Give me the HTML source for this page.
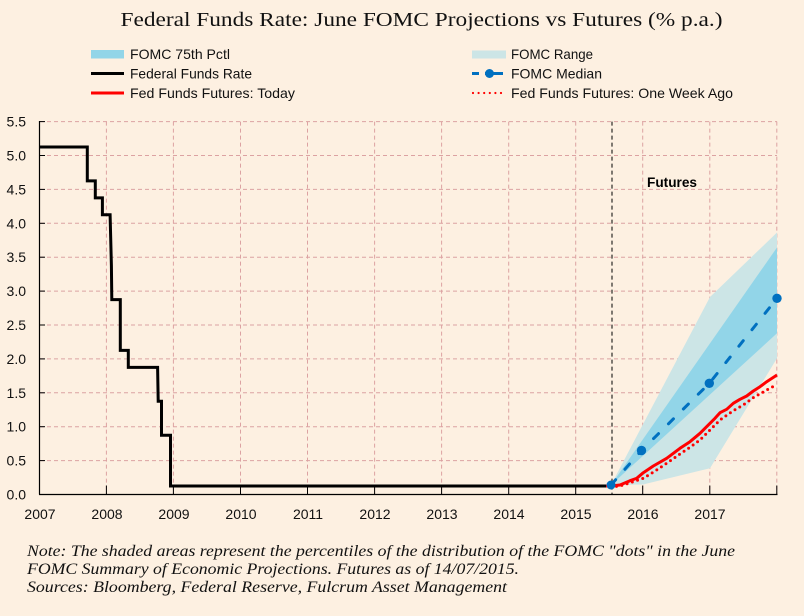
<!DOCTYPE html>
<html>
<head>
<meta charset="utf-8">
<style>
  html, body { margin: 0; padding: 0; background: #fdf0e1; }
  svg { display: block; }
  .ax { font-family: "Liberation Sans", Arial, sans-serif; font-size: 14px; fill: #111; }
  .lg { font-family: "Liberation Sans", Arial, sans-serif; font-size: 14px; fill: #111; }
  .ti { font-family: "Liberation Serif", "Times New Roman", serif; font-size: 20px; fill: #111; }
  .nt { font-family: "Liberation Serif", "Times New Roman", serif; font-size: 16px; font-style: italic; fill: #111; }
</style>
</head>
<body>
<svg width="804" height="616" viewBox="0 0 804 616" xmlns="http://www.w3.org/2000/svg">
  <rect x="0" y="0" width="804" height="616" fill="#fdf0e1"/>

  <!-- Title -->
  <text class="ti" x="120.5" y="26" textLength="602" lengthAdjust="spacingAndGlyphs">Federal Funds Rate: June FOMC Projections vs Futures (% p.a.)</text>

  <!-- Legend left -->
  <rect x="91" y="50" width="33" height="8.5" fill="#92d5e8"/>
  <text class="lg" x="130" y="59" textLength="100" lengthAdjust="spacingAndGlyphs">FOMC 75th Pctl</text>
  <line x1="91" y1="73.5" x2="124" y2="73.5" stroke="#000" stroke-width="3"/>
  <text class="lg" x="130" y="78.5" textLength="122" lengthAdjust="spacingAndGlyphs">Federal Funds Rate</text>
  <line x1="91" y1="93" x2="124" y2="93" stroke="#ff0000" stroke-width="3"/>
  <text class="lg" x="130" y="98" textLength="165" lengthAdjust="spacingAndGlyphs">Fed Funds Futures: Today</text>

  <!-- Legend right -->
  <rect x="472" y="50.5" width="34" height="8" fill="#cce5e6"/>
  <text class="lg" x="511" y="59" textLength="82" lengthAdjust="spacingAndGlyphs">FOMC Range</text>
  <path d="M472,73.5 H479 M485,73.5 H503" stroke="#0070c0" stroke-width="3" fill="none"/>
  <circle cx="489.5" cy="73.5" r="4.5" fill="#0070c0"/>
  <text class="lg" x="511" y="78.5" textLength="91" lengthAdjust="spacingAndGlyphs">FOMC Median</text>
  <line x1="473" y1="93" x2="506" y2="93" stroke="#ff0000" stroke-width="2.2" stroke-dasharray="0 5.6" stroke-linecap="round"/>
  <text class="lg" x="511" y="98" textLength="222" lengthAdjust="spacingAndGlyphs">Fed Funds Futures: One Week Ago</text>

  <!-- Grid horizontal -->
  <g stroke="#dca2a2" stroke-width="1" stroke-dasharray="4 3" fill="none">
    <line x1="40" y1="121.6" x2="777" y2="121.6"/>
    <line x1="40" y1="155.5" x2="777" y2="155.5"/>
    <line x1="40" y1="189.4" x2="777" y2="189.4"/>
    <line x1="40" y1="223.3" x2="777" y2="223.3"/>
    <line x1="40" y1="257.2" x2="777" y2="257.2"/>
    <line x1="40" y1="291.1" x2="777" y2="291.1"/>
    <line x1="40" y1="325.0" x2="777" y2="325.0"/>
    <line x1="40" y1="358.9" x2="777" y2="358.9"/>
    <line x1="40" y1="392.8" x2="777" y2="392.8"/>
    <line x1="40" y1="426.7" x2="777" y2="426.7"/>
    <line x1="40" y1="460.6" x2="777" y2="460.6"/>
  </g>
  <!-- Grid vertical -->
  <g stroke="#dca2a2" stroke-width="1" stroke-dasharray="4 3" fill="none">
    <line x1="106.4" y1="121.6" x2="106.4" y2="494"/>
    <line x1="173.4" y1="121.6" x2="173.4" y2="494"/>
    <line x1="240.5" y1="121.6" x2="240.5" y2="494"/>
    <line x1="307.5" y1="121.6" x2="307.5" y2="494"/>
    <line x1="374.6" y1="121.6" x2="374.6" y2="494"/>
    <line x1="441.6" y1="121.6" x2="441.6" y2="494"/>
    <line x1="508.7" y1="121.6" x2="508.7" y2="494"/>
    <line x1="575.7" y1="121.6" x2="575.7" y2="494"/>
    <line x1="642.7" y1="121.6" x2="642.7" y2="494"/>
    <line x1="709.8" y1="121.6" x2="709.8" y2="494"/>
    <line x1="776.8" y1="121.6" x2="776.8" y2="494"/>
  </g>

  <!-- FOMC Range (light) -->
  <polygon points="611,485 710,297 777,232.5 777,358.3 710,468.3 643,484.5" fill="#cce5e6"/>
  <!-- FOMC 75th pctl (dark) -->
  <polygon points="611,485 777,247.5 777,333.3" fill="#92d5e8"/>

  <!-- Vertical dashed futures line -->
  <line x1="612" y1="121.6" x2="612" y2="494" stroke="#000" stroke-width="1" stroke-dasharray="4 3"/>

  <!-- Futures label -->
  <text x="647" y="187" font-family="Liberation Sans, Arial, sans-serif" font-size="13.5" font-weight="bold" fill="#000" textLength="50" lengthAdjust="spacingAndGlyphs">Futures</text>

  <!-- Federal funds rate -->
  <path d="M39.3,147 H87.3 V180.9 H95.3 V197.9 H102.4 V214.8 H110.1 L111.4,265.7 L111.8,299.6 H120.3 V350.4 H128.3 V367.4 H157.6 L158.2,401.3 H161.5 V435.2 H170.5 V486 H611" fill="none" stroke="#000" stroke-width="3" stroke-linejoin="miter"/>

  <!-- Futures one week ago (dotted) -->
  <polyline points="611,487 620,486 633.3,481.7 643.3,478.3 656.7,470 666.7,463.3 680,454 690,447.3 700,440 710,430 720,420 733.3,410.7 743.3,405 753.3,397.7 766.7,390 776,385" fill="none" stroke="#ff0000" stroke-width="3" stroke-dasharray="0 5.5" stroke-linecap="round"/>

  <!-- Futures today -->
  <polyline points="606,486 611,486 620,485 630,480.7 636.7,478.3 643.3,472.7 653.3,466 666.7,458.3 680,448.3 690,441.7 700,433.3 710,423.3 715,418.3 720,412.7 726.7,409.3 733.3,403.3 740,399.3 746.7,396 753.3,391 760,386.7 766.7,381.7 777,375" fill="none" stroke="#ff0000" stroke-width="3" stroke-linejoin="round"/>

  <!-- FOMC Median -->
  <polyline points="611,485 641.5,450.5 709.3,383.3 777,298.3" fill="none" stroke="#0070c0" stroke-width="3" stroke-dasharray="7 14" stroke-linecap="round"/>
  <circle cx="611" cy="485" r="4.5" fill="#0070c0"/>
  <circle cx="641.5" cy="450.5" r="4.7" fill="#0070c0"/>
  <circle cx="709.3" cy="383.3" r="4.7" fill="#0070c0"/>
  <circle cx="777" cy="298.3" r="4.7" fill="#0070c0"/>

  <!-- Axes -->
  <line x1="39.5" y1="121" x2="39.5" y2="494.5" stroke="#000" stroke-width="1.2"/>
  <line x1="39" y1="494.5" x2="777.5" y2="494.5" stroke="#000" stroke-width="1.2"/>
  <!-- y ticks (inward) -->
  <g stroke="#000" stroke-width="1">
    <line x1="39.5" y1="121.6" x2="45" y2="121.6"/>
    <line x1="39.5" y1="155.5" x2="45" y2="155.5"/>
    <line x1="39.5" y1="189.4" x2="45" y2="189.4"/>
    <line x1="39.5" y1="223.3" x2="45" y2="223.3"/>
    <line x1="39.5" y1="257.2" x2="45" y2="257.2"/>
    <line x1="39.5" y1="291.1" x2="45" y2="291.1"/>
    <line x1="39.5" y1="325.0" x2="45" y2="325.0"/>
    <line x1="39.5" y1="358.9" x2="45" y2="358.9"/>
    <line x1="39.5" y1="392.8" x2="45" y2="392.8"/>
    <line x1="39.5" y1="426.7" x2="45" y2="426.7"/>
    <line x1="39.5" y1="460.6" x2="45" y2="460.6"/>
  </g>
  <!-- x ticks (inward) -->
  <g stroke="#000" stroke-width="1">
    <line x1="106.4" y1="485.5" x2="106.4" y2="494.5"/>
    <line x1="173.4" y1="485.5" x2="173.4" y2="494.5"/>
    <line x1="240.5" y1="485.5" x2="240.5" y2="494.5"/>
    <line x1="307.5" y1="485.5" x2="307.5" y2="494.5"/>
    <line x1="374.6" y1="485.5" x2="374.6" y2="494.5"/>
    <line x1="441.6" y1="485.5" x2="441.6" y2="494.5"/>
    <line x1="508.7" y1="485.5" x2="508.7" y2="494.5"/>
    <line x1="575.7" y1="485.5" x2="575.7" y2="494.5"/>
    <line x1="642.7" y1="485.5" x2="642.7" y2="494.5"/>
    <line x1="709.8" y1="485.5" x2="709.8" y2="494.5"/>
    <line x1="776.8" y1="485.5" x2="776.8" y2="494.5"/>
  </g>

  <!-- Y labels -->
  <g class="ax" text-anchor="end">
    <text x="26" y="126.6">5.5</text>
    <text x="26" y="160.5">5.0</text>
    <text x="26" y="194.4">4.5</text>
    <text x="26" y="228.3">4.0</text>
    <text x="26" y="262.2">3.5</text>
    <text x="26" y="296.1">3.0</text>
    <text x="26" y="330.0">2.5</text>
    <text x="26" y="363.9">2.0</text>
    <text x="26" y="397.8">1.5</text>
    <text x="26" y="431.7">1.0</text>
    <text x="26" y="465.6">0.5</text>
    <text x="26" y="499.5">0.0</text>
  </g>

  <!-- X labels -->
  <g class="ax" text-anchor="middle">
    <text x="40" y="519">2007</text>
    <text x="107" y="519">2008</text>
    <text x="174" y="519">2009</text>
    <text x="241" y="519">2010</text>
    <text x="308" y="519">2011</text>
    <text x="375" y="519">2012</text>
    <text x="442" y="519">2013</text>
    <text x="509" y="519">2014</text>
    <text x="576" y="519">2015</text>
    <text x="643" y="519">2016</text>
    <text x="710" y="519">2017</text>
  </g>

  <!-- Notes -->
  <text class="nt" x="27" y="556" textLength="708" lengthAdjust="spacingAndGlyphs">Note: The shaded areas represent the percentiles of the distribution  of  the FOMC "dots" in the June</text>
  <text class="nt" x="27" y="574" textLength="492" lengthAdjust="spacingAndGlyphs">FOMC Summary of Economic Projections. Futures as of 14/07/2015.</text>
  <text class="nt" x="27" y="592" textLength="480" lengthAdjust="spacingAndGlyphs">Sources: Bloomberg, Federal Reserve, Fulcrum Asset Management</text>
</svg>
</body>
</html>
